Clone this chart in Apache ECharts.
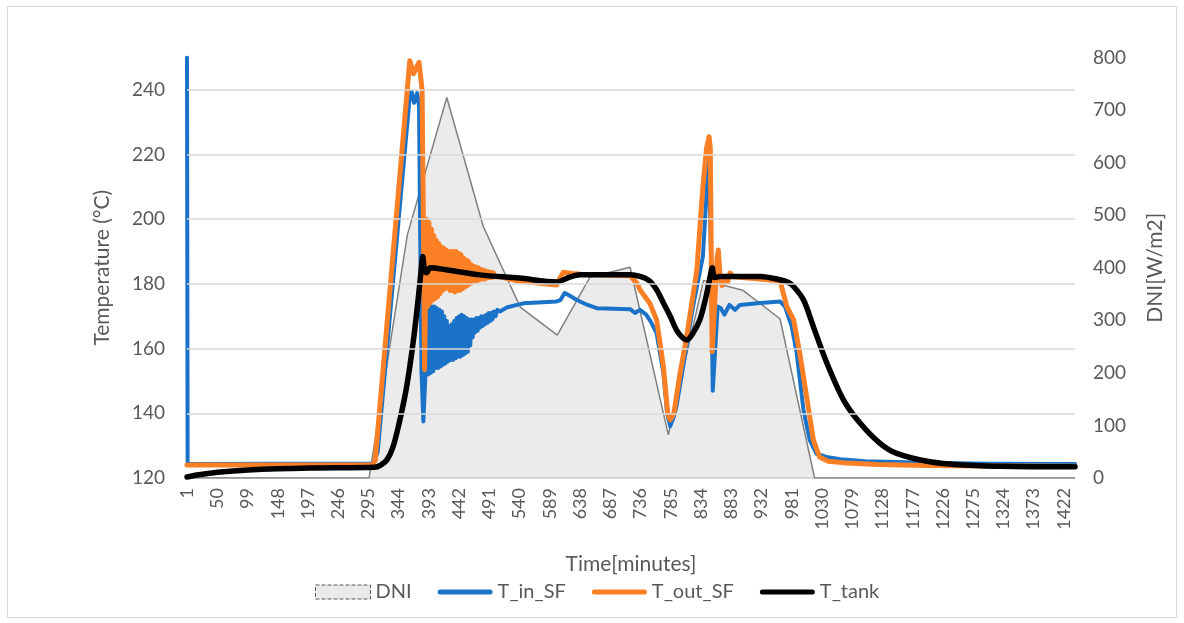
<!DOCTYPE html>
<html>
<head>
<meta charset="utf-8">
<script src="https://cdn.jsdelivr.net/npm/echarts@6/dist/echarts.min.js"></script>
<style>
  html, body { margin: 0; padding: 0; background: #fff; }
  #frame { position: absolute; left: 7px; top: 6px; width: 1168px; height: 610px; border: 1px solid #d9d9d9; }
  #chart { position: absolute; left: 0; top: 0; width: 1184px; height: 623px; }
</style>
</head>
<body>
<div id="frame"></div>
<div id="chart"></div>
<script>
// minute labels 1..1440 for the category axis
var minutes = [];
for (var i = 1; i <= 1440; i++) minutes.push(String(i));

var tempTicks = [140, 160, 180, 200, 220, 240];

// [minute, W/m2]
var dniPts = [[1,0],[296,0],[358,462],[422,724],[481,479],[541,325],[601,272],[654,382],[719,401],
  [781,82],[838,376],[902,357],[962,303],[1018,0],[1440,0]];

// [minute, °C]
var tInPts = [[1,250],[2,124.3],[150,124.4],[303,124.5],[310,128],[362,238],[365,239.5],[369,236],[374,239],
  [377,235],[381,153],[384,137.5],[387,150],
  [390,172],[392,152],[394,173],[396,152.5],[398,173],[400,153],[402,173],[404,154],[406,172.5],[408,154],
  [410,172],[412,154.5],[414,171.5],[416,155],[418,170],[420,155.5],[422,168.5],[424,156],[426,167],[428,156.5],
  [430,167.5],[432,156.5],[434,168.5],[436,157],[438,169.5],[440,157.5],[442,170],[444,157.5],[446,170.5],
  [448,158],[450,170],[452,158.5],[454,169.5],[456,159],[458,169],[460,161],[462,169],[464,163.5],[466,169],
  [468,165],[470,169.5],[472,165.5],[474,169.5],[476,166.5],[478,170],[480,167],[482,170],[484,167.5],
  [486,170.5],[488,168],[490,171],[492,168.5],[494,171],[496,169],[498,171.5],[501,170],[504,172],[508,171.5],
  [520,172.8],[546,174],[600,174.6],[606,175],[613,177.2],[620,176.5],[632,175.1],[650,173.5],[665,172.5],
  [719,172.2],[727,171],[735,172],[745,170.5],[752,168.5],[762,164.8],[773,152.4],[779,140],[784,136],[790,139],
  [794,142],[805,154.4],[821,173],[837,188.5],[842,205],[845,219],[847,216],[850,190],[853,147],[857,160],
  [861,173],[866,172.5],[872,170.5],[880,173.5],[889,172],[897,173.5],[930,174.1],[962,174.6],[970,173],
  [981,166.8],[989,158.6],[1000,141],[1010,131.8],[1021,127.5],[1037,126.5],[1060,125.8],[1100,125.2],
  [1200,124.7],[1300,124.4],[1440,124.3]];

var tOutPts = [[1,124],[150,124],[302,124],[306,125.5],[362,249],[368,245],[377,248.5],[382,240],[384,200],
  [386,153.5],[389,200],
  [391,173],[393,199],[395,174],[397,197],[399,175],[401,195],[403,175.5],[405,193.5],[407,176],[409,192.5],
  [411,177],[413,191.5],[415,178],[417,191],[419,178.5],[421,190.5],[423,179],[425,190],[427,178],[429,190],
  [431,178],[433,190],[435,177.5],[437,190],[439,178],[441,189.5],[443,178],[445,189],[447,178.5],[449,188],
  [451,179],[453,187.5],[455,179.5],[457,187],[459,180],[461,186],[463,180.5],[465,185.5],[467,181],[469,185.2],
  [471,181],[473,185],[475,181.3],[477,184.5],[479,181.5],[481,184.3],[483,181.5],[485,184],[487,181.8],
  [489,183.8],[491,182],[493,183.6],[495,182],[497,183.5],[500,182.3],
  [508,182.2],[540,180.8],[600,179.7],[606,182],[611,183.6],[625,183.2],[640,183],[719,182.5],[730,180.3],
  [735,178.2],[751,174],[762,168.9],[773,154.5],[780,140],[784,138],[790,140],[800,152.4],[811,164],[827,184],
  [837,210],[843,222],[847,225.5],[849,222],[851,180],[852,159],[855,170],[860,188],[862,190.5],[865,182],
  [868,179.5],[873,181.5],[877,180.5],[881,183.4],[886,182.3],[900,182],[962,181],[973,173],[984,168.9],
  [994,158.6],[1005,145.2],[1016,131.8],[1026,126.5],[1040,125.2],[1070,124.6],[1120,124.2],[1200,123.9],
  [1300,123.7],[1440,123.6]];

var tTankPts = [[1,120.3],[20,121],[50,121.8],[100,122.5],[200,123.1],[305,123.3],[315,124],[325,125.6],
  [335,129.7],[346,138],[357,148.3],[368,162.7],[376,176],[381,185.4],[383,188.5],[386,184],[389,183.5],
  [395,185],[420,184.4],[476,182.8],[540,181.8],[600,180.6],[620,182],[638,182.8],[719,182.8],[735,182.3],
  [750,181],[762,178.2],[772,174.5],[784,170],[795,165.5],[805,163.2],[811,162.7],[820,164.5],[832,168.9],
  [842,176],[849,182.5],[852,185],[856,182],[865,182.3],[930,182.3],[962,181.3],[975,180.5],[984,179.2],
  [1000,175.1],[1016,166.8],[1038,155.5],[1065,144.1],[1092,136.9],[1124,130.7],[1151,127.6],[1205,125],
  [1258,124],[1320,123.6],[1367,123.5],[1440,123.5]];

function toIdx(pts) {
  return pts.map(function (p) { return [p[0] - 1, p[1]]; });
}

var txt = '#595959';
var font = 'Lato, "Liberation Sans", sans-serif';
var barIcon = 'path://M2.5,0 H52.5 A2.5,2.5 0 0 1 52.5,5 H2.5 A2.5,2.5 0 0 1 2.5,0 Z';

var chart = echarts.init(document.getElementById('chart'));
chart.setOption({
  animation: false,
  textStyle: { fontFamily: font, color: txt },
  grid: { left: 187, right: 109, top: 57.5, bottom: 145 },
  legend: {
    left: 310, top: 577,
    itemWidth: 55, itemHeight: 14, itemGap: 26,
    textStyle: { fontSize: 20, color: txt, fontFamily: font },
    data: [
      { name: 'DNI', icon: 'rect', itemStyle: { color: '#ebebeb', borderColor: '#595959', borderWidth: 1, borderType: 'dashed' } },
      { name: 'T_in_SF', icon: barIcon, itemStyle: { color: '#1a73c8', borderWidth: 0 } },
      { name: 'T_out_SF', icon: barIcon, itemStyle: { color: '#fb8025', borderWidth: 0 } },
      { name: 'T_tank', icon: barIcon, itemStyle: { color: '#000000', borderWidth: 0 } }
    ]
  },
  xAxis: {
    type: 'category',
    data: minutes,
    boundaryGap: false,
    name: 'Time[minutes]',
    nameLocation: 'middle',
    nameGap: 76,
    nameTextStyle: { fontSize: 21, color: txt },
    axisLine: { lineStyle: { color: '#d9d9d9', width: 2 } },
    axisTick: { show: false },
    axisLabel: { interval: 48, rotate: 90, fontSize: 18, color: txt, margin: 10 }
  },
  yAxis: [
    {
      type: 'value', min: 120, max: 250, interval: 20,
      name: 'Temperature (°C)', nameLocation: 'middle', nameGap: 74, nameRotate: 90,
      nameTextStyle: { fontSize: 21, color: txt },
      axisLine: { show: false }, axisTick: { show: false }, splitLine: { show: false },
      axisLabel: { fontSize: 19, color: txt, margin: 22, showMaxLabel: false }
    },
    {
      type: 'value', min: 0, max: 800, interval: 100, position: 'right',
      name: 'DNI[W/m2]', nameLocation: 'middle', nameGap: 70, nameRotate: 90,
      nameTextStyle: { fontSize: 21, color: txt },
      axisLine: { show: false }, axisTick: { show: false }, splitLine: { show: false },
      axisLabel: { fontSize: 19, color: txt, margin: 18 }
    }
  ],
  series: [
    {
      name: 'grid', type: 'line', yAxisIndex: 0, data: [], z: 0, silent: true,
      markLine: {
        silent: true, symbol: 'none', label: { show: false },
        lineStyle: { color: '#d9d9d9', width: 1.5, type: 'solid' },
        data: tempTicks.map(function (v) { return { yAxis: v }; })
      }
    },
    {
      name: 'DNI', type: 'line', yAxisIndex: 1, data: toIdx(dniPts), z: 1,
      symbol: 'none', showSymbol: false,
      lineStyle: { color: '#808080', width: 1.5 },
      itemStyle: { color: '#ebebeb' },
      areaStyle: { color: '#cfcfcf', opacity: 0.42 }
    },
    {
      name: 'T_in_SF', type: 'line', data: toIdx(tInPts), z: 2,
      symbol: 'none', showSymbol: false,
      lineStyle: { color: '#1a73c8', width: 4, cap: 'round', join: 'round' },
      itemStyle: { color: '#1a73c8' }
    },
    {
      name: 'T_out_SF', type: 'line', data: toIdx(tOutPts), z: 3,
      symbol: 'none', showSymbol: false,
      lineStyle: { color: '#fb8025', width: 5, cap: 'round', join: 'round' },
      itemStyle: { color: '#fb8025' }
    },
    {
      name: 'T_tank', type: 'line', data: toIdx(tTankPts), z: 4,
      symbol: 'none', showSymbol: false, smooth: 0.3,
      lineStyle: { color: '#000000', width: 5.5, cap: 'round', join: 'round' },
      itemStyle: { color: '#000000' }
    }
  ]
});
</script>
</body>
</html>
